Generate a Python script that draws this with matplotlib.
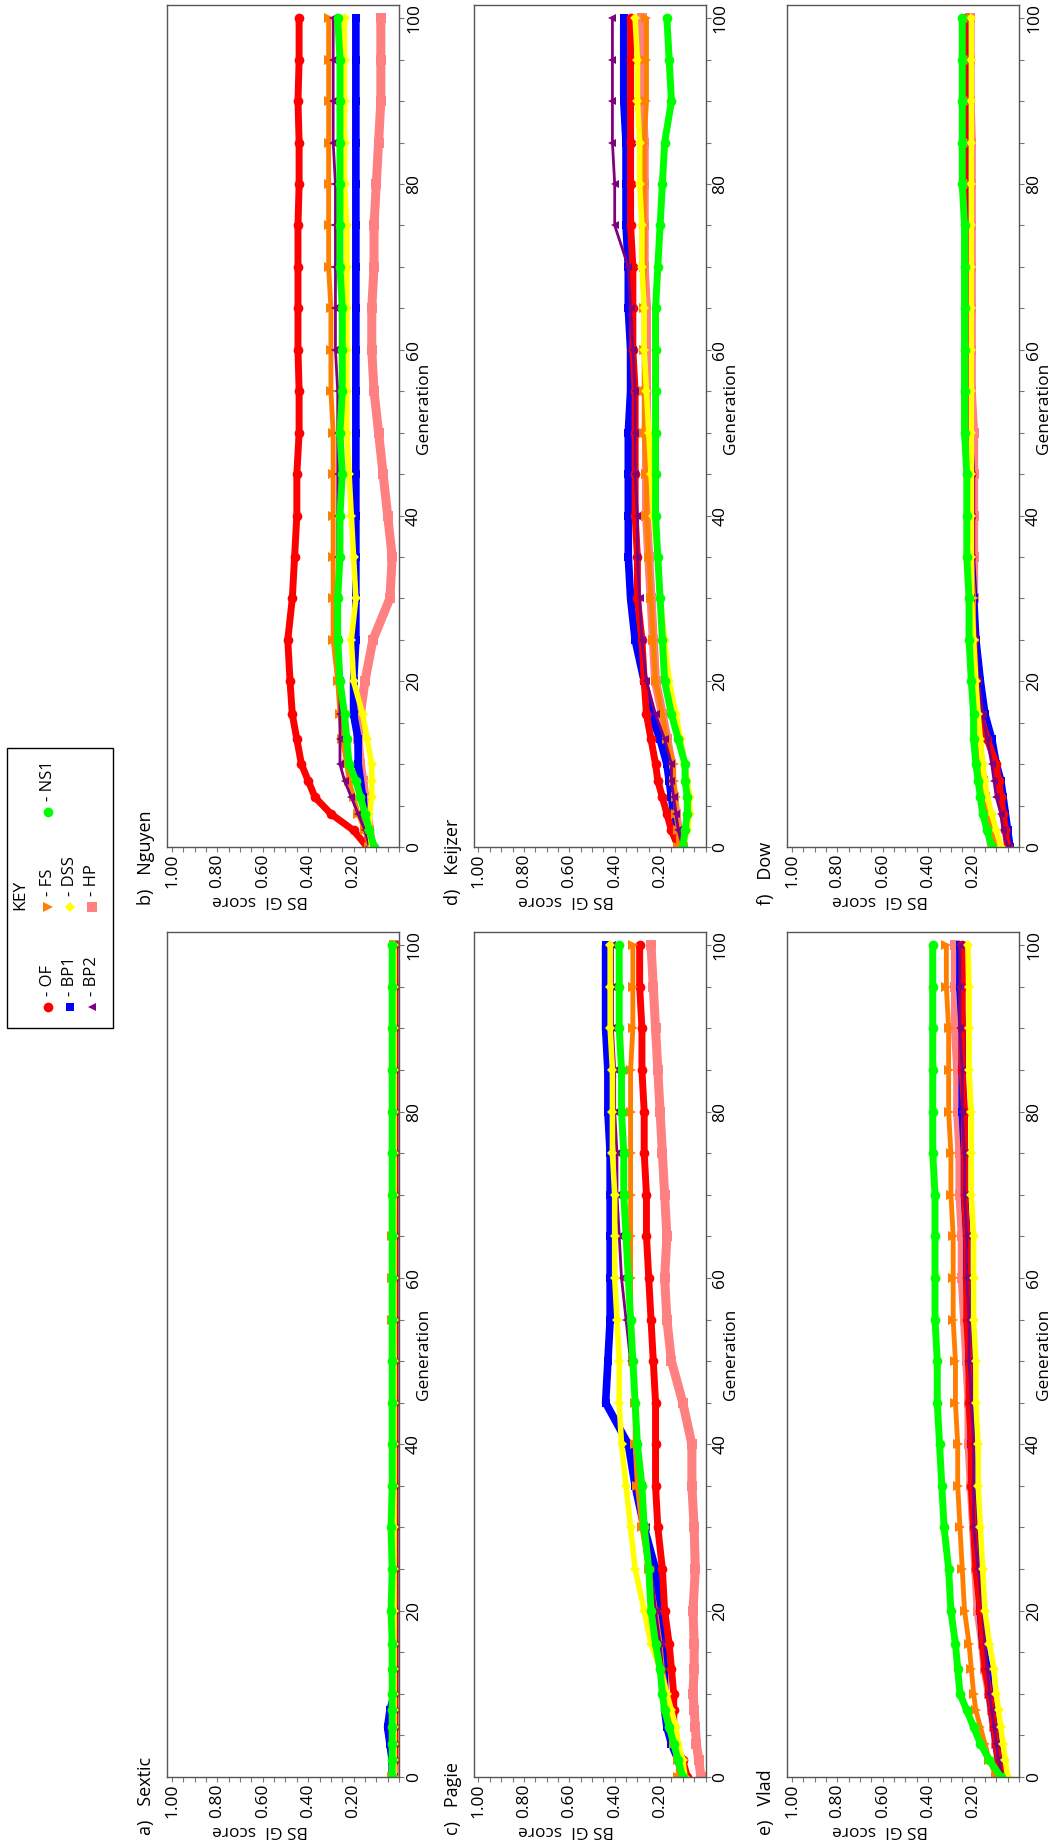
import matplotlib
matplotlib.use("Agg")
import matplotlib.pyplot as plt
from matplotlib.ticker import FixedLocator, MultipleLocator
from matplotlib.patches import Rectangle

plt.rcParams['font.family'] = ['Open Sans', 'DejaVu Sans']

W, H = 1059, 1843

gens = [0, 2, 4, 6, 8, 10, 13, 16, 20, 25, 30, 35, 40, 45, 50, 55, 60, 65, 70, 75, 80, 85, 90, 95, 100]

# a) Sextic
sextic_of = [0.03, 0.02, 0.02, 0.02, 0.02, 0.02, 0.02, 0.02, 0.02, 0.02, 0.02, 0.02, 0.02, 0.02, 0.02, 0.02, 0.02, 0.02, 0.02, 0.02, 0.02, 0.02, 0.02, 0.02, 0.02]
sextic_bp1 = [0.03, 0.03, 0.04, 0.05, 0.04, 0.02, 0.02, 0.02, 0.02, 0.02, 0.02, 0.02, 0.02, 0.02, 0.02, 0.02, 0.02, 0.02, 0.02, 0.02, 0.02, 0.02, 0.02, 0.02, 0.02]
sextic_bp2 = [0.02, 0.02, 0.02, 0.02, 0.02, 0.02, 0.02, 0.02, 0.02, 0.02, 0.02, 0.02, 0.02, 0.02, 0.02, 0.02, 0.02, 0.02, 0.02, 0.02, 0.02, 0.02, 0.02, 0.02, 0.02]
sextic_fs = [0.03, 0.02, 0.02, 0.02, 0.02, 0.02, 0.02, 0.02, 0.02, 0.02, 0.02, 0.02, 0.02, 0.02, 0.02, 0.03, 0.03, 0.03, 0.02, 0.02, 0.02, 0.02, 0.02, 0.02, 0.02]
sextic_dss = [0.02, 0.02, 0.02, 0.02, 0.02, 0.02, 0.02, 0.02, 0.02, 0.02, 0.02, 0.02, 0.02, 0.02, 0.02, 0.02, 0.02, 0.02, 0.02, 0.02, 0.02, 0.02, 0.02, 0.02, 0.02]
sextic_hp = [0.02, 0.02, 0.02, 0.02, 0.02, 0.02, 0.02, 0.02, 0.02, 0.02, 0.02, 0.02, 0.02, 0.02, 0.02, 0.02, 0.02, 0.02, 0.02, 0.02, 0.02, 0.02, 0.02, 0.02, 0.02]
sextic_ns1 = [0.03, 0.03, 0.03, 0.03, 0.03, 0.03, 0.03, 0.03, 0.035, 0.03, 0.035, 0.03, 0.03, 0.03, 0.03, 0.03, 0.03, 0.03, 0.03, 0.03, 0.03, 0.03, 0.03, 0.03, 0.03]

# b) Nguyen
nguyen_of = [0.14, 0.20, 0.30, 0.37, 0.40, 0.43, 0.45, 0.47, 0.48, 0.49, 0.47, 0.46, 0.45, 0.45, 0.44, 0.44, 0.445, 0.445, 0.445, 0.445, 0.44, 0.44, 0.445, 0.44, 0.44]
nguyen_bp1 = [0.13, 0.14, 0.15, 0.16, 0.17, 0.18, 0.18, 0.20, 0.20, 0.19, 0.19, 0.19, 0.19, 0.19, 0.19, 0.19, 0.19, 0.19, 0.19, 0.19, 0.19, 0.19, 0.19, 0.19, 0.19]
nguyen_bp2 = [0.13, 0.15, 0.18, 0.21, 0.24, 0.26, 0.26, 0.26, 0.26, 0.27, 0.27, 0.27, 0.27, 0.27, 0.27, 0.27, 0.28, 0.28, 0.28, 0.28, 0.28, 0.29, 0.29, 0.29, 0.29]
nguyen_fs = [0.13, 0.15, 0.18, 0.20, 0.22, 0.23, 0.25, 0.26, 0.27, 0.29, 0.29, 0.29, 0.29, 0.29, 0.29, 0.30, 0.30, 0.30, 0.31, 0.31, 0.31, 0.31, 0.31, 0.31, 0.31]
nguyen_dss = [0.12, 0.13, 0.13, 0.12, 0.12, 0.12, 0.14, 0.16, 0.20, 0.21, 0.19, 0.20, 0.21, 0.22, 0.23, 0.23, 0.23, 0.23, 0.23, 0.23, 0.24, 0.24, 0.24, 0.24, 0.24]
nguyen_hp = [0.12, 0.13, 0.14, 0.15, 0.16, 0.17, 0.18, 0.17, 0.15, 0.115, 0.04, 0.03, 0.05, 0.07, 0.09, 0.11, 0.12, 0.12, 0.11, 0.11, 0.10, 0.09, 0.08, 0.08, 0.08]
nguyen_ns1 = [0.11, 0.13, 0.15, 0.17, 0.19, 0.22, 0.23, 0.24, 0.26, 0.27, 0.27, 0.26, 0.26, 0.25, 0.26, 0.25, 0.25, 0.25, 0.26, 0.26, 0.26, 0.26, 0.26, 0.26, 0.27]

# c) Pagie
pagie_of = [0.08, 0.10, 0.13, 0.14, 0.14, 0.14, 0.15, 0.16, 0.18, 0.19, 0.21, 0.22, 0.22, 0.22, 0.23, 0.24, 0.25, 0.26, 0.26, 0.27, 0.27, 0.28, 0.28, 0.29, 0.29]
pagie_bp1 = [0.10, 0.12, 0.15, 0.17, 0.18, 0.18, 0.18, 0.19, 0.20, 0.22, 0.27, 0.31, 0.34, 0.44, 0.43, 0.42, 0.42, 0.42, 0.42, 0.42, 0.43, 0.43, 0.44, 0.44, 0.44]
pagie_bp2 = [0.10, 0.12, 0.14, 0.16, 0.17, 0.18, 0.19, 0.20, 0.22, 0.24, 0.26, 0.28, 0.30, 0.31, 0.33, 0.35, 0.37, 0.38, 0.39, 0.39, 0.40, 0.40, 0.41, 0.41, 0.41]
pagie_fs = [0.12, 0.12, 0.14, 0.15, 0.16, 0.17, 0.19, 0.20, 0.22, 0.25, 0.28, 0.30, 0.31, 0.31, 0.32, 0.33, 0.33, 0.33, 0.33, 0.33, 0.33, 0.33, 0.32, 0.32, 0.32]
pagie_dss = [0.09, 0.10, 0.12, 0.13, 0.15, 0.17, 0.20, 0.24, 0.27, 0.31, 0.33, 0.35, 0.37, 0.38, 0.38, 0.39, 0.40, 0.40, 0.40, 0.41, 0.41, 0.41, 0.42, 0.42, 0.42]
pagie_hp = [0.02, 0.03, 0.04, 0.045, 0.05, 0.055, 0.05, 0.05, 0.055, 0.045, 0.05, 0.06, 0.06, 0.10, 0.15, 0.17, 0.18, 0.17, 0.18, 0.19, 0.20, 0.21, 0.22, 0.23, 0.24]
pagie_ns1 = [0.10, 0.12, 0.14, 0.16, 0.18, 0.19, 0.20, 0.22, 0.24, 0.25, 0.27, 0.28, 0.30, 0.31, 0.32, 0.33, 0.34, 0.35, 0.36, 0.36, 0.37, 0.37, 0.38, 0.38, 0.38]

# d) Keijzer
keijzer_of = [0.12, 0.15, 0.17, 0.19, 0.21, 0.22, 0.24, 0.26, 0.27, 0.28, 0.30, 0.30, 0.31, 0.31, 0.31, 0.31, 0.32, 0.32, 0.32, 0.33, 0.33, 0.33, 0.33, 0.33, 0.33]
keijzer_bp1 = [0.11, 0.13, 0.14, 0.15, 0.16, 0.17, 0.20, 0.24, 0.27, 0.31, 0.33, 0.34, 0.34, 0.34, 0.34, 0.33, 0.33, 0.34, 0.34, 0.35, 0.35, 0.35, 0.36, 0.36, 0.36]
keijzer_bp2 = [0.10, 0.12, 0.13, 0.14, 0.15, 0.15, 0.18, 0.22, 0.26, 0.28, 0.29, 0.30, 0.30, 0.31, 0.31, 0.31, 0.32, 0.33, 0.34, 0.40, 0.40, 0.41, 0.41, 0.41, 0.41]
keijzer_fs = [0.12, 0.12, 0.13, 0.13, 0.14, 0.14, 0.17, 0.19, 0.22, 0.23, 0.24, 0.25, 0.26, 0.26, 0.27, 0.27, 0.27, 0.27, 0.27, 0.27, 0.27, 0.27, 0.26, 0.26, 0.26]
keijzer_dss = [0.10, 0.08, 0.07, 0.07, 0.08, 0.09, 0.11, 0.13, 0.16, 0.18, 0.20, 0.21, 0.23, 0.24, 0.25, 0.26, 0.27, 0.27, 0.28, 0.28, 0.29, 0.29, 0.30, 0.30, 0.31]
keijzer_hp = [0.10, 0.12, 0.13, 0.14, 0.15, 0.15, 0.17, 0.19, 0.22, 0.23, 0.24, 0.25, 0.26, 0.26, 0.26, 0.26, 0.26, 0.26, 0.27, 0.27, 0.27, 0.27, 0.28, 0.28, 0.28]
keijzer_ns1 = [0.10, 0.09, 0.08, 0.08, 0.09, 0.09, 0.12, 0.15, 0.18, 0.19, 0.20, 0.21, 0.22, 0.22, 0.22, 0.22, 0.22, 0.22, 0.21, 0.20, 0.19, 0.18, 0.15, 0.16, 0.17]

# e) Vlad
vlad_of = [0.07, 0.09, 0.10, 0.11, 0.12, 0.13, 0.15, 0.16, 0.17, 0.19, 0.20, 0.21, 0.21, 0.22, 0.22, 0.23, 0.23, 0.23, 0.24, 0.24, 0.24, 0.25, 0.25, 0.25, 0.25]
vlad_bp1 = [0.07, 0.09, 0.10, 0.11, 0.12, 0.13, 0.14, 0.16, 0.17, 0.18, 0.19, 0.20, 0.21, 0.21, 0.22, 0.22, 0.23, 0.23, 0.24, 0.24, 0.25, 0.25, 0.25, 0.26, 0.26]
vlad_bp2 = [0.07, 0.09, 0.10, 0.11, 0.12, 0.13, 0.14, 0.15, 0.16, 0.18, 0.20, 0.20, 0.20, 0.21, 0.22, 0.22, 0.23, 0.23, 0.24, 0.24, 0.25, 0.25, 0.26, 0.26, 0.26]
vlad_fs = [0.10, 0.13, 0.15, 0.17, 0.19, 0.20, 0.21, 0.22, 0.24, 0.25, 0.26, 0.27, 0.27, 0.28, 0.28, 0.29, 0.29, 0.29, 0.30, 0.30, 0.31, 0.31, 0.31, 0.32, 0.32]
vlad_dss = [0.05, 0.06, 0.07, 0.08, 0.09, 0.10, 0.11, 0.13, 0.15, 0.16, 0.17, 0.18, 0.18, 0.19, 0.19, 0.20, 0.20, 0.20, 0.21, 0.21, 0.21, 0.22, 0.22, 0.22, 0.225]
vlad_hp = [0.08, 0.09, 0.10, 0.11, 0.12, 0.13, 0.15, 0.16, 0.18, 0.19, 0.20, 0.21, 0.22, 0.22, 0.23, 0.24, 0.25, 0.25, 0.26, 0.26, 0.27, 0.27, 0.28, 0.28, 0.28]
vlad_ns1 = [0.08, 0.13, 0.17, 0.20, 0.23, 0.26, 0.27, 0.28, 0.30, 0.31, 0.33, 0.34, 0.35, 0.36, 0.36, 0.37, 0.37, 0.37, 0.37, 0.38, 0.38, 0.38, 0.38, 0.38, 0.38]

# f) Dow
dow_of = [0.05, 0.06, 0.07, 0.08, 0.09, 0.10, 0.14, 0.17, 0.19, 0.20, 0.21, 0.21, 0.21, 0.21, 0.22, 0.22, 0.22, 0.22, 0.22, 0.23, 0.23, 0.23, 0.23, 0.23, 0.23]
dow_bp1 = [0.04, 0.05, 0.06, 0.07, 0.08, 0.10, 0.12, 0.15, 0.17, 0.19, 0.20, 0.21, 0.21, 0.21, 0.22, 0.22, 0.22, 0.22, 0.22, 0.22, 0.23, 0.23, 0.23, 0.23, 0.23]
dow_bp2 = [0.05, 0.07, 0.08, 0.10, 0.11, 0.12, 0.14, 0.16, 0.18, 0.20, 0.21, 0.21, 0.21, 0.21, 0.22, 0.22, 0.22, 0.22, 0.22, 0.22, 0.22, 0.22, 0.22, 0.22, 0.22]
dow_fs = [0.10, 0.12, 0.13, 0.15, 0.16, 0.17, 0.18, 0.18, 0.19, 0.20, 0.20, 0.21, 0.21, 0.21, 0.21, 0.21, 0.21, 0.21, 0.21, 0.21, 0.21, 0.21, 0.21, 0.21, 0.21]
dow_dss = [0.08, 0.10, 0.12, 0.14, 0.15, 0.16, 0.17, 0.18, 0.19, 0.20, 0.21, 0.21, 0.21, 0.21, 0.21, 0.21, 0.21, 0.21, 0.21, 0.21, 0.21, 0.21, 0.21, 0.21, 0.21]
dow_hp = [0.12, 0.13, 0.14, 0.15, 0.16, 0.17, 0.18, 0.19, 0.19, 0.20, 0.20, 0.20, 0.20, 0.20, 0.20, 0.21, 0.21, 0.21, 0.21, 0.21, 0.21, 0.21, 0.215, 0.215, 0.215]
dow_ns1 = [0.12, 0.14, 0.16, 0.17, 0.18, 0.19, 0.20, 0.20, 0.21, 0.22, 0.22, 0.23, 0.23, 0.23, 0.24, 0.24, 0.24, 0.24, 0.24, 0.24, 0.25, 0.25, 0.25, 0.25, 0.25]

score_ticks = [0.2, 0.4, 0.6, 0.8, 1.0]
score_labels = ['0.20', '0.40', '0.60', '0.80', '1.00']
gen_ticks = [0, 20, 40, 60, 80, 100]

# name, colour, marker (page is turned, so triangles are turned too), marker size, band width
styles = {
    'HP':  ('#ff8080', 's', 7.0, 6.5),
    'BP1': ('#0000ff', 's', 6.0, 5.5),
    'OF':  ('#ff0000', 'o', 7.0, 5.0),
    'FS':  ('#ff8000', '>', 6.5, 3.5),
    'BP2': ('#800080', '<', 6.0, 2.0),
    'DSS': ('#ffff00', 'D', 5.5, 4.0),
    'NS1': ('#00ff00', 'o', 7.0, 5.0),
}

panels = [
    ('a)   Sextic', 0, 1, {'OF': sextic_of, 'BP1': sextic_bp1, 'BP2': sextic_bp2, 'FS': sextic_fs,
                           'DSS': sextic_dss, 'HP': sextic_hp, 'NS1': sextic_ns1}),
    ('b)   Nguyen', 0, 0, {'OF': nguyen_of, 'BP1': nguyen_bp1, 'BP2': nguyen_bp2, 'FS': nguyen_fs,
                           'DSS': nguyen_dss, 'HP': nguyen_hp, 'NS1': nguyen_ns1}),
    ('c)   Pagie', 1, 1, {'OF': pagie_of, 'BP1': pagie_bp1, 'BP2': pagie_bp2, 'FS': pagie_fs,
                          'DSS': pagie_dss, 'HP': pagie_hp, 'NS1': pagie_ns1}),
    ('d)   Keijzer', 1, 0, {'OF': keijzer_of, 'BP1': keijzer_bp1, 'BP2': keijzer_bp2, 'FS': keijzer_fs,
                            'DSS': keijzer_dss, 'HP': keijzer_hp, 'NS1': keijzer_ns1}),
    ('e)   Vlad', 2, 1, {'OF': vlad_of, 'BP1': vlad_bp1, 'BP2': vlad_bp2, 'FS': vlad_fs,
                         'DSS': vlad_dss, 'HP': vlad_hp, 'NS1': vlad_ns1}),
    ('f)   Dow', 2, 0, {'OF': dow_of, 'BP1': dow_bp1, 'BP2': dow_bp2, 'FS': dow_fs,
                        'DSS': dow_dss, 'HP': dow_hp, 'NS1': dow_ns1}),
]

col_left = [167, 473.5, 787]
col_w = 232
row_top = [5, 932]
row_bottom = [847, 1777]
gen_label_shift = [-18, 0]

fig = plt.figure(figsize=(W / 100, H / 100), dpi=100)

# page-sized axes in pixel units, for the loose text and the key
canvas = fig.add_axes([0, 0, 1, 1])
canvas.set_xlim(0, W)
canvas.set_ylim(H, 0)
canvas.axis('off')

fs_txt = 12.5

for title, col, row, data in panels:
    left = col_left[col]
    right = left + col_w
    top = row_top[row]
    bottom = row_bottom[row]
    ax = fig.add_axes([left / W, 1 - bottom / H, col_w / W, (bottom - top) / H])

    for name in ['HP', 'BP1', 'OF', 'FS', 'BP2', 'DSS', 'NS1']:
        color, marker, ms, lw = styles[name]
        ax.plot(data[name], gens, color=color, lw=lw, marker=marker, ms=ms,
                mew=0, solid_joinstyle='miter', solid_capstyle='butt')

    ax.set_xlim(1.022, 0)
    ax.set_ylim(0, 101.6)
    ax.xaxis.set_major_locator(FixedLocator(score_ticks))
    ax.set_xticklabels(score_labels)
    ax.xaxis.set_minor_locator(MultipleLocator(0.05))
    ax.yaxis.tick_right()
    ax.set_yticks(gen_ticks)
    ax.yaxis.set_minor_locator(MultipleLocator(5))
    ax.tick_params(axis='x', which='both', direction='out', length=3.5, width=0.8,
                   color='#777777', labelrotation=90, pad=1, labelsize=fs_txt)
    ax.tick_params(axis='y', which='both', direction='out', length=3.5, width=0.8,
                   color='#777777', labelrotation=90, pad=1.5, labelsize=fs_txt)
    for lab in ax.get_yticklabels():
        lab.set_verticalalignment('center')
    for sp in ax.spines.values():
        sp.set_color('#555555')
        sp.set_linewidth(1.0)

    canvas.text(left - 21, bottom + 58, title, rotation=90, rotation_mode='anchor',
                ha='left', va='center', fontsize=13)
    canvas.text(left + 93, bottom + 45, 'BS GI  score', rotation=180,
                ha='center', va='top', fontsize=fs_txt)
    canvas.text(right + 25, (top + bottom) / 2 + gen_label_shift[row], 'Generation', rotation=90,
                ha='center', va='center', fontsize=fs_txt)

# key
canvas.add_patch(Rectangle((7, 748), 106, 280, fill=False, ec='black', lw=1))
canvas.text(20, 910, 'KEY', rotation=90, rotation_mode='anchor', ha='left', va='center', fontsize=12.5)
key_items = [('OF', 0, 0), ('BP1', 1, 0), ('BP2', 2, 0), ('FS', 0, 1), ('DSS', 1, 1), ('HP', 2, 1), ('NS1', 0, 2)]
key_x = [48, 70, 92]
key_y = [1007, 907, 812]
for name, r, c in key_items:
    color, marker, ms, lw = styles[name]
    canvas.plot([key_x[r]], [key_y[c]], marker=marker, color=color, ms=ms, mew=0, ls='none')
    canvas.text(key_x[r], key_y[c] - 11, '- ' + name, rotation=90, rotation_mode='anchor',
                ha='left', va='center', fontsize=12)

fig.savefig('out.png', dpi=100)
